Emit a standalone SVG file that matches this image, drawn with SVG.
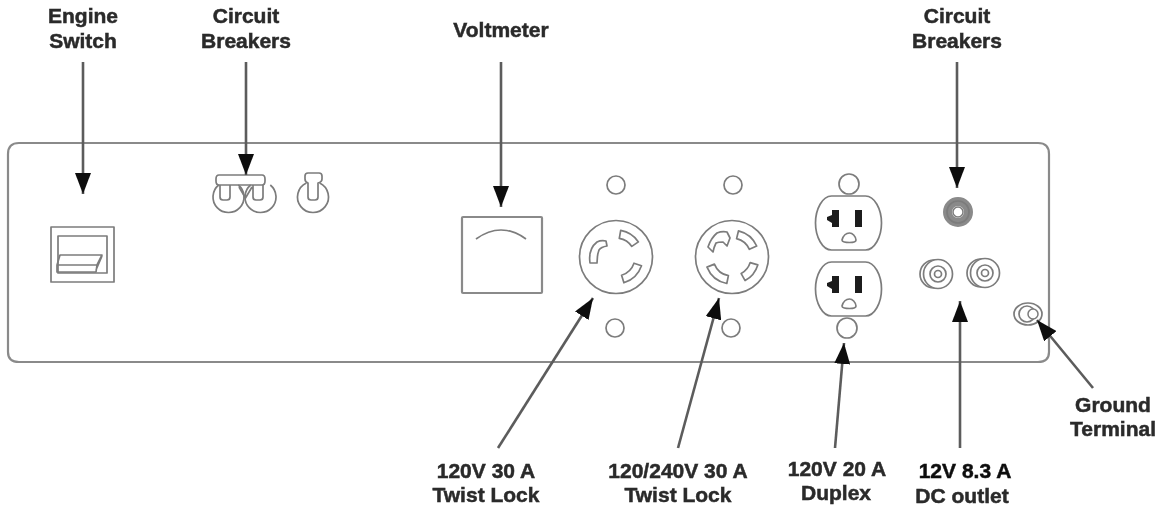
<svg xmlns="http://www.w3.org/2000/svg" width="1159" height="506" viewBox="0 0 1159 506">
<style>
.o{fill:none;stroke:#7c7c7c;stroke-width:1.7;stroke-linejoin:round}
.p{fill:none;stroke:#8a8a8a;stroke-width:2.2}
.d{fill:#1c1c1c;stroke:none}
.c{fill:none;stroke:#5c5c5c;stroke-width:2.6}
text{font-family:"Liberation Sans",Arial,sans-serif;font-weight:bold;font-size:21px;fill:#2a2a2a;stroke:#2a2a2a;stroke-width:0.5;text-anchor:middle}
</style>
<defs>
<filter id="soft" x="-5%" y="-5%" width="110%" height="110%"><feGaussianBlur stdDeviation="0.7"/></filter>
<marker id="ah" markerUnits="userSpaceOnUse" markerWidth="21" markerHeight="16" refX="21" refY="8" viewBox="0 0 21 16" orient="auto"><path d="M0 0L21 8L0 16Z" fill="#111"/></marker>
<g id="outlet"><path class="o" d="M-17-27H17C26-27 33-14 33 0C33 14 26 27 17 27H-17C-26 27-33 14-33 0C-33-14-26-27-17-27Z"/><path class="d" d="M-16.500-13H-9.500V4H-16.500V0L-21.500-3V-6L-16.500-8Z"/><rect class="d" x="6.500" y="-13" width="7" height="17"/><path class="o" d="M-6.500 17C-5 12-2 10 1 10C4 10 7 13 7.500 17C7.500 19 5 19.500 1 19.500C-3 19.500-6.500 19-6.500 17Z"/></g>
<g id="post"><circle class="o" cx="-4" cy="0" r="14"/><circle cx="0" cy="0" r="14.500" fill="#fff" stroke="#7c7c7c" stroke-width="1.700"/><circle class="o" cx="0" cy="0" r="8"/><circle class="o" cx="0" cy="0" r="3.500"/></g>
</defs>
<g filter="url(#soft)">
<g id="panel"><path class="p" d="M1049 352V154Q1049 143 1038 143H19Q8 143 8 154V352Q8 362 19 362H1038Q1049 362 1049 352Z"/></g>
<g id="engine-switch"><rect class="o" x="51" y="227" width="63" height="55"/><rect class="o" x="58" y="236" width="49" height="37"/><path class="o" d="M60 255H102L97 265H57ZM57 265V272H96L97 265M96 270L102 256"/></g>
<g id="breakers-left"><path class="o" d="M219 175H262Q265 175 265 179V181Q265 185 262 185H219Q216 185 216 181V179Q216 175 219 175Z"/><path class="o" d="M218.700 185A15.500 15.500 0 1 0 238.300 185"/><path class="o" d="M250.700 185A15.500 15.500 0 1 0 270.300 185"/><path class="o" d="M239 187L245.500 198L252 187M220 185V197Q220 200 223 200H227Q230 200 230 197V185M253 185V197Q253 200 256 200H260Q263 200 263 197V185"/></g>
<g id="breaker-single"><path class="o" d="M306.400 183A15.500 15.500 0 1 0 319.600 183"/><path class="o" d="M308 173H319Q322 173 322 176V179Q322 182 318 183V197Q318 200 315 200H311Q308 200 308 197V183Q305 182 305 179V176Q305 173 308 173Z"/></g>
<g id="voltmeter"><rect class="p" x="462" y="217" width="80" height="76" rx="1"/><path class="o" d="M476 239Q501 221 526 239"/></g>
<g id="hole-1"><circle class="o" cx="616" cy="185" r="9"/></g>
<g id="hole-2"><circle class="o" cx="733" cy="185" r="9"/></g>
<g id="hole-3"><circle class="o" cx="615" cy="328" r="9"/></g>
<g id="hole-4"><circle class="o" cx="731" cy="328" r="9"/></g>
<g id="twist-30"><circle class="o" cx="616" cy="257" r="36.500"/><path class="o" d="M590 263Q588 249 597 242Q601 240 606 241L607 246Q601 247 599 250Q597 255 597 263ZM620.700 230.400A27 27 0 0 1 638.400 241.900L631.800 246.400A19 19 0 0 0 619.300 238.300ZM641.500 265.800A27 27 0 0 1 623.900 282.800L621.600 275.200A19 19 0 0 0 634 263.200Z"/></g>
<g id="twist-240"><circle class="o" cx="732" cy="257" r="36.500"/><path class="o" d="M708 247Q711 238 717 233Q722 231 727 232L730 238L727 246L723 242Q718 242 716 243Q714 247 713 252ZM738.500 230.800A27 27 0 0 1 756.700 246L749.400 249.300A19 19 0 0 0 736.600 238.600ZM757.800 264.900A27 27 0 0 1 745.100 280.600L741.200 273.600A19 19 0 0 0 750.200 262.600ZM726.800 283.500A27 27 0 0 1 707 267.100L714.400 264.100A19 19 0 0 0 728.400 275.700Z"/></g>
<g id="duplex"><circle class="o" cx="849" cy="184" r="10"/><use href="#outlet" x="848.500" y="223"/><use href="#outlet" x="848.500" y="289"/><circle class="o" cx="847" cy="328" r="10"/></g>
<g id="breaker-right"><circle cx="958" cy="212" r="10.500" fill="none" stroke="#8a8a8a" stroke-width="9"/><circle class="o" cx="958" cy="212" r="11"/><circle cx="958" cy="212" r="5" fill="#fff" stroke="#7c7c7c" stroke-width="1.500"/></g>
<g id="dc-outlet"><use href="#post" x="938" y="274"/><use href="#post" x="985" y="273"/></g>
<g id="ground"><ellipse class="o" cx="1028" cy="314" rx="14" ry="11"/><circle class="o" cx="1027" cy="314" r="8"/><circle cx="1033" cy="314" r="5" fill="#fff" stroke="#7c7c7c" stroke-width="1.500"/></g>
<g id="connectors">
<path class="c" marker-end="url(#ah)" d="M83 62V194"/>
<path class="c" marker-end="url(#ah)" d="M246 62V175"/>
<path class="c" marker-end="url(#ah)" d="M501 62V207"/>
<path class="c" marker-end="url(#ah)" d="M957 62V188"/>
<path class="c" marker-end="url(#ah)" d="M498 448L593 298"/>
<path class="c" marker-end="url(#ah)" d="M678 448L719 298"/>
<path class="c" marker-end="url(#ah)" d="M835 448L844 343"/>
<path class="c" marker-end="url(#ah)" d="M960 448V301"/>
<path class="c" marker-end="url(#ah)" d="M1093 388L1037 320"/>
</g>
<g id="labels">
<text x="83" y="23">Engine</text><text x="83" y="48">Switch</text>
<text x="246" y="23">Circuit</text><text x="246" y="48">Breakers</text>
<text x="501" y="37">Voltmeter</text>
<text x="957" y="23">Circuit</text><text x="957" y="48">Breakers</text>
<text x="1113" y="412">Ground</text><text x="1113" y="436">Terminal</text>
<text x="486" y="478">120V 30 A</text><text x="486" y="502">Twist Lock</text>
<text x="678" y="478">120/240V 30 A</text><text x="678" y="502">Twist Lock</text>
<text x="837" y="476">120V 20 A</text><text x="836" y="500">Duplex</text>
<text x="965" y="478" style="fill:#111;stroke:#111">12V 8.3 A</text><text x="962" y="503">DC outlet</text>
</g>
</g>
</svg>
